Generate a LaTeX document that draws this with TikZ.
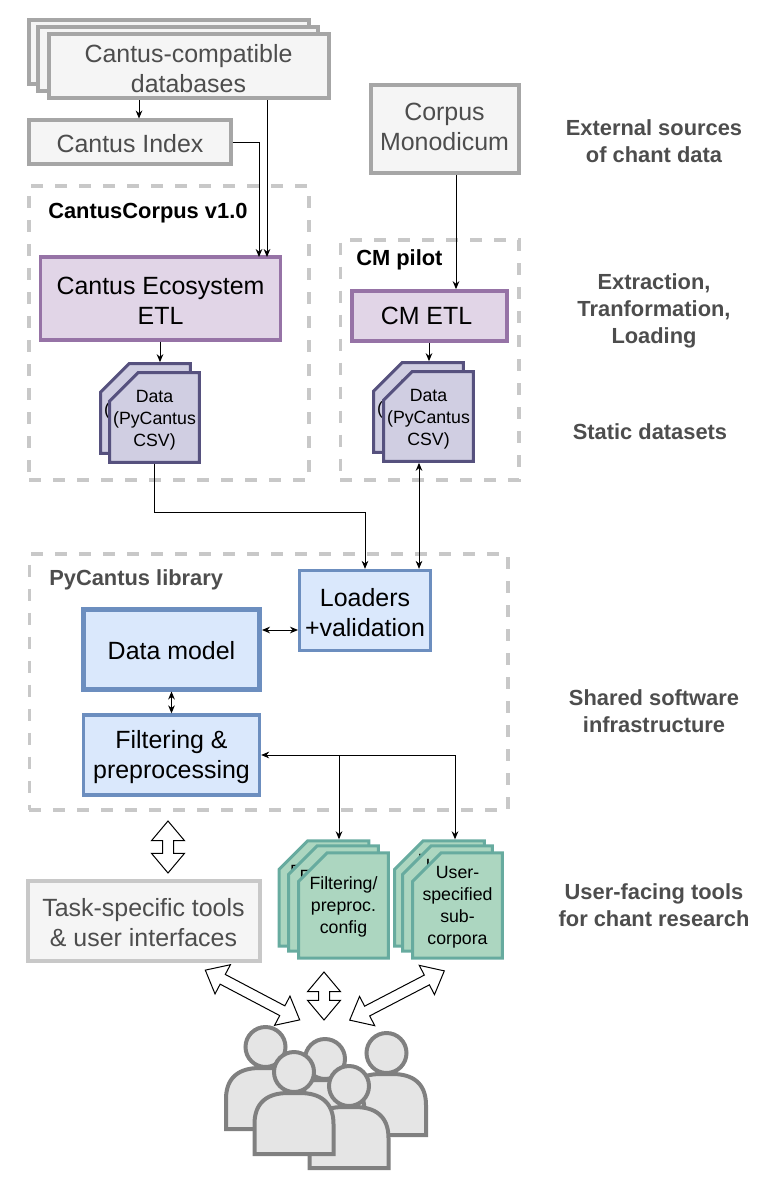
\documentclass[tikz,border=0pt]{standalone}
\usepackage{fontspec}
\setmainfont{Liberation Sans}
\usetikzlibrary{arrows.meta,shapes.arrows}

\definecolor{boxgray}{HTML}{A6A6A6}
\definecolor{boxfill}{HTML}{F5F5F5}
\definecolor{dashgray}{HTML}{C8C8C8}
\definecolor{labelgray}{HTML}{4D4D4D}
\definecolor{etlfill}{HTML}{E1D5E7}
\definecolor{etlline}{HTML}{9673A6}
\definecolor{datafill}{HTML}{D0CEE2}
\definecolor{dataline}{HTML}{56517E}
\definecolor{libfill}{HTML}{DAE8FC}
\definecolor{libline}{HTML}{6C8EBF}
\definecolor{userfill}{HTML}{ACD6C0}
\definecolor{userline}{HTML}{67AB9F}

\newcommand{\lowbig}{\rule{0pt}{17pt}}
\newcommand{\lowsmall}{\rule{0pt}{13.1pt}}
\newcommand{\lowuser}{\rule{0pt}{12pt}}

\tikzset{
  bigtext/.style={font=\fontsize{18.7pt}{22.5pt}\selectfont, align=center},
  oneline/.style={execute at begin node={\rule{0pt}{#1}}},
  smalltext/.style={font=\fontsize{13.3pt}{16.6pt}\selectfont, align=center},
  sidelabel/.style={font=\fontsize{16.4pt}{20pt}\selectfont\bfseries, align=center, text=labelgray},
  grouplabel/.style={font=\fontsize{16.4pt}{20pt}\selectfont\bfseries, anchor=west, inner sep=0pt},
  sourcebox/.style={bigtext, draw=boxgray, fill=boxfill, line width=3pt, text=labelgray, inner sep=0pt},
  groupbox/.style={draw=dashgray, line width=2.5pt, dash pattern=on 9pt off 9pt, inner sep=0pt},
  etlbox/.style={bigtext, draw=etlline, fill=etlfill, line width=2.75pt, inner sep=0pt},
  libbox/.style={bigtext, draw=libline, fill=libfill, line width=2.5pt, inner sep=0pt},
  sheet/.style 2 args={smalltext, rectangle, minimum width=69.5pt, inner sep=0pt, outer sep=0pt,
    path picture={
      \draw[draw=#1, fill=#2, line width=2.25pt]
        ([shift={(1.5,-1.5)}]path picture bounding box.south west)
        -- ([shift={(1.5,30)}]path picture bounding box.north west)
        -- ([shift={(30,1.5)}]path picture bounding box.north west)
        -- ([shift={(-1.5,1.5)}]path picture bounding box.north east)
        -- ([shift={(-1.5,-1.5)}]path picture bounding box.south east) -- cycle;
    }},
  datasheet/.style={sheet={dataline}{datafill}, minimum height=69.5pt},
  usersheet/.style={sheet={userline}{userfill}, minimum height=81.3pt},
  flow/.style={line width=0.75pt, -{Stealth[length=6pt,width=5pt]}},
  bothflow/.style={line width=0.75pt, {Stealth[length=6pt,width=5pt]}-{Stealth[length=6pt,width=5pt]}},
  blockarrow/.style={double arrow, draw, fill=white, line width=0.75pt, inner xsep=0pt, inner ysep=3.75pt,
    double arrow head extend=8.25pt, double arrow tip angle=80},
  person/.style={draw=black!50, fill=black!10, line width=3pt, line join=miter}
}

\begin{document}
\begin{tikzpicture}[x=0.75pt, y=-0.75pt]
  \useasboundingbox (0,0) rectangle (775,1180);

  % external sources
  \node[sourcebox, minimum width=210pt, minimum height=48pt] (dbback) at (169,52.5) {};
  \node[sourcebox, minimum width=210pt, minimum height=48pt] (dbmid) at (178,59.5) {};
  \node[sourcebox, minimum width=210pt, minimum height=48pt] (db) at (188.5,66.5) {\lowbig Cantus-compatible\\databases};
  \node[sourcebox, oneline=15pt, minimum width=151pt, minimum height=33pt] (index) at (130,142.5) {Cantus Index};
  \node[sourcebox, minimum width=111pt, minimum height=66pt, execute at end node={\rule[-4pt]{0pt}{0pt}}] (cmsource) at (444.5,129) {Corpus\\Monodicum};

  % dashed groups
  \node[groupbox, minimum width=210pt, minimum height=220.5pt] (cantusgroup) at (169,333) {};
  \node[grouplabel] (cantuslabel) at (48,213) {CantusCorpus v1.0};
  \node[groupbox, minimum width=134pt, minimum height=180pt] (cmgroup) at (429.5,360) {};
  \node[grouplabel] (cmlabel) at (356,260) {CM pilot};
  \node[groupbox, minimum width=359pt, minimum height=192pt] (libgroup) at (268.5,682) {};
  \node[grouplabel, text=labelgray] (liblabel) at (49,580) {PyCantus library};

  % ETL
  \node[etlbox, minimum width=180pt, minimum height=62pt] (eco) at (160.5,298.5) {\lowbig Cantus Ecosystem\\ETL};
  \node[etlbox, minimum width=116pt, minimum height=37.5pt] (cmetl) at (429.5,316) {CM ETL\hspace{4.5pt}};

  % static datasets
  \node[datasheet] (databack) at (145.5,408.5) {\lowsmall Data\\(PyCantus\\CSV)};
  \node[datasheet] (data) at (154.5,417.5) {\lowsmall Data\\(PyCantus\\CSV)};
  \node[datasheet] (cmdataback) at (418.5,407.5) {\lowsmall Data\\(PyCantus\\CSV)};
  \node[datasheet] (cmdata) at (428.5,416.5) {\lowsmall Data\\(PyCantus\\CSV)};

  % library
  \node[libbox, minimum width=98pt, minimum height=60pt] (loaders) at (365,610.5) {\lowbig Loaders\\+validation};
  \node[libbox, oneline=16.5pt, line width=3.75pt, minimum width=132pt, minimum height=60pt] (model) at (171.5,649) {Data model};
  \node[libbox, minimum width=132pt, minimum height=60pt] (filter) at (171.5,755) {\lowbig Filtering \&\\preprocessing};

  % user tools
  \node[sourcebox, draw=dashgray, minimum width=174pt, minimum height=60pt] (tools) at (143.5,920.5) {\lowbig Task-specific tools\\\& user interfaces};
  \node[usersheet] (cfgback) at (324,893.5) {\lowuser Filtering/\\preproc.\\config};
  \node[usersheet] (cfgmid) at (333.5,898.5) {\lowuser Filtering/\\preproc.\\config};
  \node[usersheet] (cfg) at (343.5,905.5) {\lowuser Filtering/\\preproc.\\config};
  \node[usersheet] (subback) at (439.5,893.5) {\lowuser User-\\specified\\sub-\\corpora};
  \node[usersheet] (submid) at (447.5,898.5) {\lowuser User-\\specified\\sub-\\corpora};
  \node[usersheet] (sub) at (457.5,905.5) {\lowuser User-\\specified\\sub-\\corpora};

  % connectors
  \coordinate (ecoleft) at (259,257);
  \coordinate (ecoright) at (267,257);
  \coordinate (filterjoin) at (339,755);
  \coordinate (subjoin) at (455,755);
  \coordinate (dataturn) at (154.5,512);
  \draw[flow] (db.south -| 139,0) -- (index.north -| 139,0);
  \draw[flow] (db.south -| ecoright) -- (ecoright);
  \draw[flow] (index.east) -| (ecoleft);
  \draw[flow] (cmsource.south -| 456,0) -- (cmetl.north -| 456,0);
  \draw[flow] (eco.south -| 160,0) -- (databack.north -| 160,0);
  \draw[flow] (cmetl.south -| 429,0) -- (cmdataback.north -| 429,0);
  \draw[flow] (data.south -| dataturn) -- (dataturn) -| (loaders.north);
  \draw[bothflow] (cmdata.south -| 419,0) -- (loaders.north -| 419,0);
  \draw[bothflow] (model.east |- 0,630) -- (loaders.west |- 0,630);
  \draw[bothflow] (model.south) -- (filter.north);
  \draw[bothflow] (filter.east) -| (cfgback.north -| filterjoin);
  \draw[flow] (filterjoin) -| (subjoin) -- (subback.north -| subjoin);

  % block arrows
  \node[blockarrow, rotate=90, minimum height=39pt] (libarrow) at (168,847) {};
  \node[blockarrow, rotate=-27.8, minimum height=80pt] (toolsarrow) at (252.5,995) {};
  \node[blockarrow, rotate=90, minimum height=36pt] (cfgarrow) at (324,996) {};
  \node[blockarrow, rotate=27.5, minimum height=80pt] (subarrow) at (397,995.5) {};

  % users
  \foreach \px/\py in {386.5/1135, 325/1141, 265.5/1129, 349/1168, 294/1154} {
    \draw[person] (\px-39.5,\py) -- (\px-39.5,\py-30) .. controls (\px-39.5,\py-52) and (\px-26,\py-61) .. (\px-6,\py-61)
      -- (\px+6,\py-61) .. controls (\px+26,\py-61) and (\px+39.5,\py-52) .. (\px+39.5,\py-30) -- (\px+39.5,\py) -- cycle;
    \draw[person] (\px,\py-82) circle (20);
  }

  % side labels
  \node[sidelabel] (extlabel) at (654,141) {External sources\\of chant data};
  \node[sidelabel] (etllabel) at (654,311) {Extraction,\\Tranformation,\\Loading};
  \node[sidelabel] (staticlabel) at (650,432) {Static datasets};
  \node[sidelabel] (sharedlabel) at (654,711) {Shared software\\infrastructure};
  \node[sidelabel] (userlabel) at (654,905.5) {User-facing tools\hspace{4.5pt}\\for chant research};
\end{tikzpicture}
\end{document}
